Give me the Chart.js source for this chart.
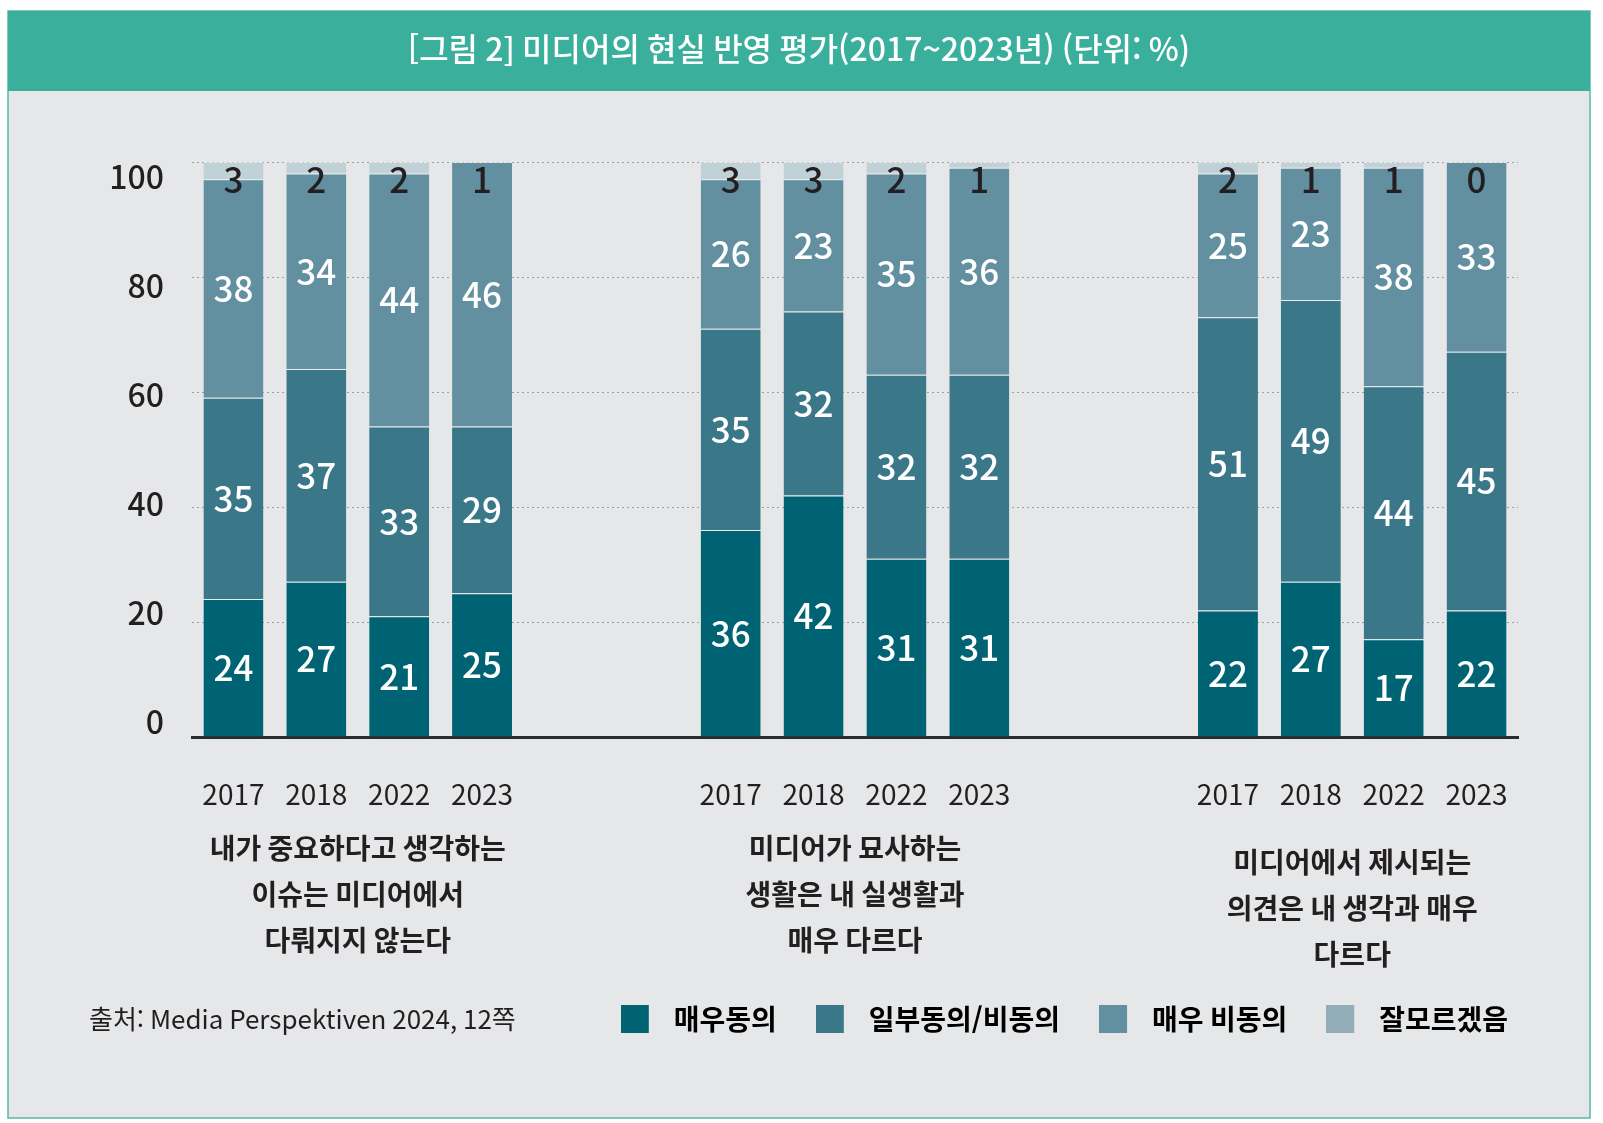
<!DOCTYPE html>
<html lang="ko">
<head>
<meta charset="utf-8">
<title>미디어의 현실 반영 평가</title>
<script src="https://cdn.jsdelivr.net/npm/chart.js@4.4.1/dist/chart.umd.min.js"></script>
<style>
  html, body { margin: 0; padding: 0; background: #ffffff; overflow: hidden; }
  canvas { display: block; }
</style>
</head>
<body>
<canvas id="c" width="1603" height="1123" style="width:1603px;height:1123px"></canvas>
<script>
// ---------------- DATA ----------------
const years = ['2017', '2018', '2022', '2023'];
const groupLabels = [
  ['내가 중요하다고 생각하는', '이슈는 미디어에서', '다뤄지지 않는다'],
  ['미디어가 묘사하는', '생활은 내 실생활과', '매우 다르다'],
  ['미디어에서 제시되는', '의견은 내 생각과 매우', '다르다']
];
const seriesNames = ['매우동의', '일부동의/비동의', '매우 비동의', '잘모르겠음'];
const stronglyAgree    = [[24, 27, 21, 25], [36, 42, 31, 31], [22, 27, 17, 22]];
const partlyAgree      = [[35, 37, 33, 29], [35, 32, 32, 32], [51, 49, 44, 45]];
const stronglyDisagree = [[38, 34, 44, 46], [26, 23, 35, 36], [25, 23, 38, 33]];
const dontKnow         = [[3, 2, 2, 1], [3, 3, 2, 1], [2, 1, 1, 0]];
const yTicks = [0, 20, 40, 60, 80, 100];
const titleText = '[그림 2] 미디어의 현실 반영 평가(2017~2023년) (단위: %)';
const sourceText = '출처: Media Perspektiven 2024, 12쪽';

// ---------------- STYLE ----------------
const FONT = "'Noto Sans CJK KR', 'Noto Sans', sans-serif";
const TEXT = '#231f20';
const barColors = ['#006373', '#3a7789', '#6290a1', '#c1d1d8'];
const legendColors = ['#006373', '#3a7789', '#6290a1', '#94aeb9'];
const labelColors = ['#ffffff', '#ffffff', '#ffffff', TEXT];
const GAP = 2; // empty category slots between groups
const groupLabelOffsets = [0, 0, 14];

Chart.defaults.font.family = FONT;
Chart.defaults.color = TEXT;

// build category axis (years, with blank spacer slots between groups)
const categories = [];
groupLabels.forEach((g, gi) => {
  years.forEach(y => categories.push(y));
  if (gi < groupLabels.length - 1) for (let k = 0; k < GAP; k++) categories.push('');
});
function flatten(arr) {
  const out = [];
  arr.forEach((g, gi) => {
    g.forEach(v => out.push(v));
    if (gi < arr.length - 1) for (let k = 0; k < GAP; k++) out.push(null);
  });
  return out;
}
const seriesData = [stronglyAgree, partlyAgree, stronglyDisagree, dontKnow].map(flatten);

function swatch(color) {
  const c = document.createElement('canvas');
  c.width = 39; c.height = 28;
  const g = c.getContext('2d');
  g.fillStyle = color;
  g.fillRect(0, 0, 28, 28);
  return c;
}

const framePlugin = {
  id: 'frame',
  beforeDraw(chart) {
    const ctx = chart.ctx;
    ctx.save();
    ctx.fillStyle = '#ffffff';
    ctx.fillRect(0, 0, chart.width, chart.height);
    ctx.fillStyle = '#e6e7e9';
    ctx.fillRect(8, 11, 1582, 1107);
    ctx.strokeStyle = '#55b9a8';
    ctx.lineWidth = 1.5;
    ctx.strokeRect(8, 11, 1582, 1107);
    ctx.fillStyle = '#3aaf9c';
    ctx.fillRect(8, 11, 1582, 80);
    ctx.restore();
  }
};

const textPlugin = {
  id: 'texts',
  afterDatasetsDraw(chart) {
    const ctx = chart.ctx;
    const ys = chart.scales.y;
    const xs = chart.scales.x;
    ctx.save();
    ctx.textAlign = 'center';
    ctx.textBaseline = 'middle';
    // value labels
    chart.data.datasets.forEach((ds, di) => {
      const meta = chart.getDatasetMeta(di);
      ctx.fillStyle = labelColors[di];
      ctx.font = `500 35px ${FONT}`;
      meta.data.forEach((el, i) => {
        const v = ds.data[i];
        if (v === null || v === undefined) return;
        const y = di === 3 ? ys.getPixelForValue(100) + 18 : (el.y + el.base) / 2;
        ctx.fillText(String(v), el.x, y);
      });
    });
    // group labels
    ctx.fillStyle = TEXT;
    ctx.font = `bold 28px ${FONT}`;
    const step = years.length + GAP;
    groupLabels.forEach((lines, gi) => {
      const a = xs.getPixelForValue(gi * step + 1);
      const b = xs.getPixelForValue(gi * step + 2);
      const cx = (a + b) / 2;
      lines.forEach((line, li) => {
        ctx.fillText(line, cx, chart.chartArea.bottom + 111 + li * 46 + groupLabelOffsets[gi]);
      });
    });
    // source
    ctx.textAlign = 'left';
    ctx.font = `26px ${FONT}`;
    ctx.fillText(sourceText, 89, 1019);
    ctx.restore();
  }
};

new Chart(document.getElementById('c'), {
  type: 'bar',
  data: {
    labels: categories,
    datasets: seriesNames.map((name, i) => ({
      label: name,
      data: seriesData[i],
      backgroundColor: barColors[i],
      borderColor: 'rgba(235,240,242,0.55)',
      borderWidth: { top: 1 },
      borderSkipped: false,
      barPercentage: 0.724,
      categoryPercentage: 1.0
    }))
  },
  options: {
    responsive: false,
    animation: false,
    devicePixelRatio: 1,
    layout: { padding: { top: 11, left: 51, right: 56, bottom: 80 } },
    plugins: {
      tooltip: { enabled: false },
      title: {
        display: true,
        text: titleText,
        color: '#ffffff',
        font: { size: 32, weight: '500' },
        padding: { top: 19, bottom: 93.6 }
      },
      legend: {
        position: 'bottom',
        align: 'end',
        labels: {
          font: { size: 28, weight: 'bold' },
          color: TEXT,
          padding: 39,
          usePointStyle: true,
          pointStyleWidth: 39,
          generateLabels: () => seriesNames.map((n, i) => ({
            text: n,
            fillStyle: legendColors[i],
            strokeStyle: legendColors[i],
            lineWidth: 0,
            pointStyle: swatch(legendColors[i]),
            datasetIndex: i,
            hidden: false
          }))
        }
      }
    },
    scales: {
      x: {
        type: 'category',
        stacked: true,
        grid: { display: false, drawTicks: false },
        border: { display: true, color: '#2b2b2b', width: 3 },
        ticks: { padding: 41, color: TEXT, font: { size: 28 }, autoSkip: false, maxRotation: 0 },
        afterFit(s) { s.height = 229; }
      },
      y: {
        stacked: true,
        min: 0,
        max: 100,
        position: 'left',
        ticks: { display: false, stepSize: 20 },
        grid: { color: '#9d9fa2', lineWidth: 1, drawTicks: false },
        border: { display: false, dash: [2, 3] },
        afterFit(s) { s.width = 0; }
      },
      yLabels: {
        type: 'linear',
        position: 'left',
        min: -2.75,
        max: 102.75,
        grid: { display: false, drawTicks: false },
        border: { display: false },
        ticks: {
          stepSize: 20,
          includeBounds: false,
          padding: 28,
          color: TEXT,
          font: { size: 32, weight: '500' }
        },
        afterBuildTicks(s) { s.ticks = yTicks.map(v => ({ value: v })); },
        afterFit(s) { s.width = 141; }
      },
      yR: {
        type: 'linear',
        position: 'right',
        grid: { display: false, drawTicks: false },
        border: { display: false },
        ticks: { display: false },
        afterFit(s) { s.width = 29; }
      }
    }
  },
  plugins: [framePlugin, textPlugin]
});
</script>
</body>
</html>
